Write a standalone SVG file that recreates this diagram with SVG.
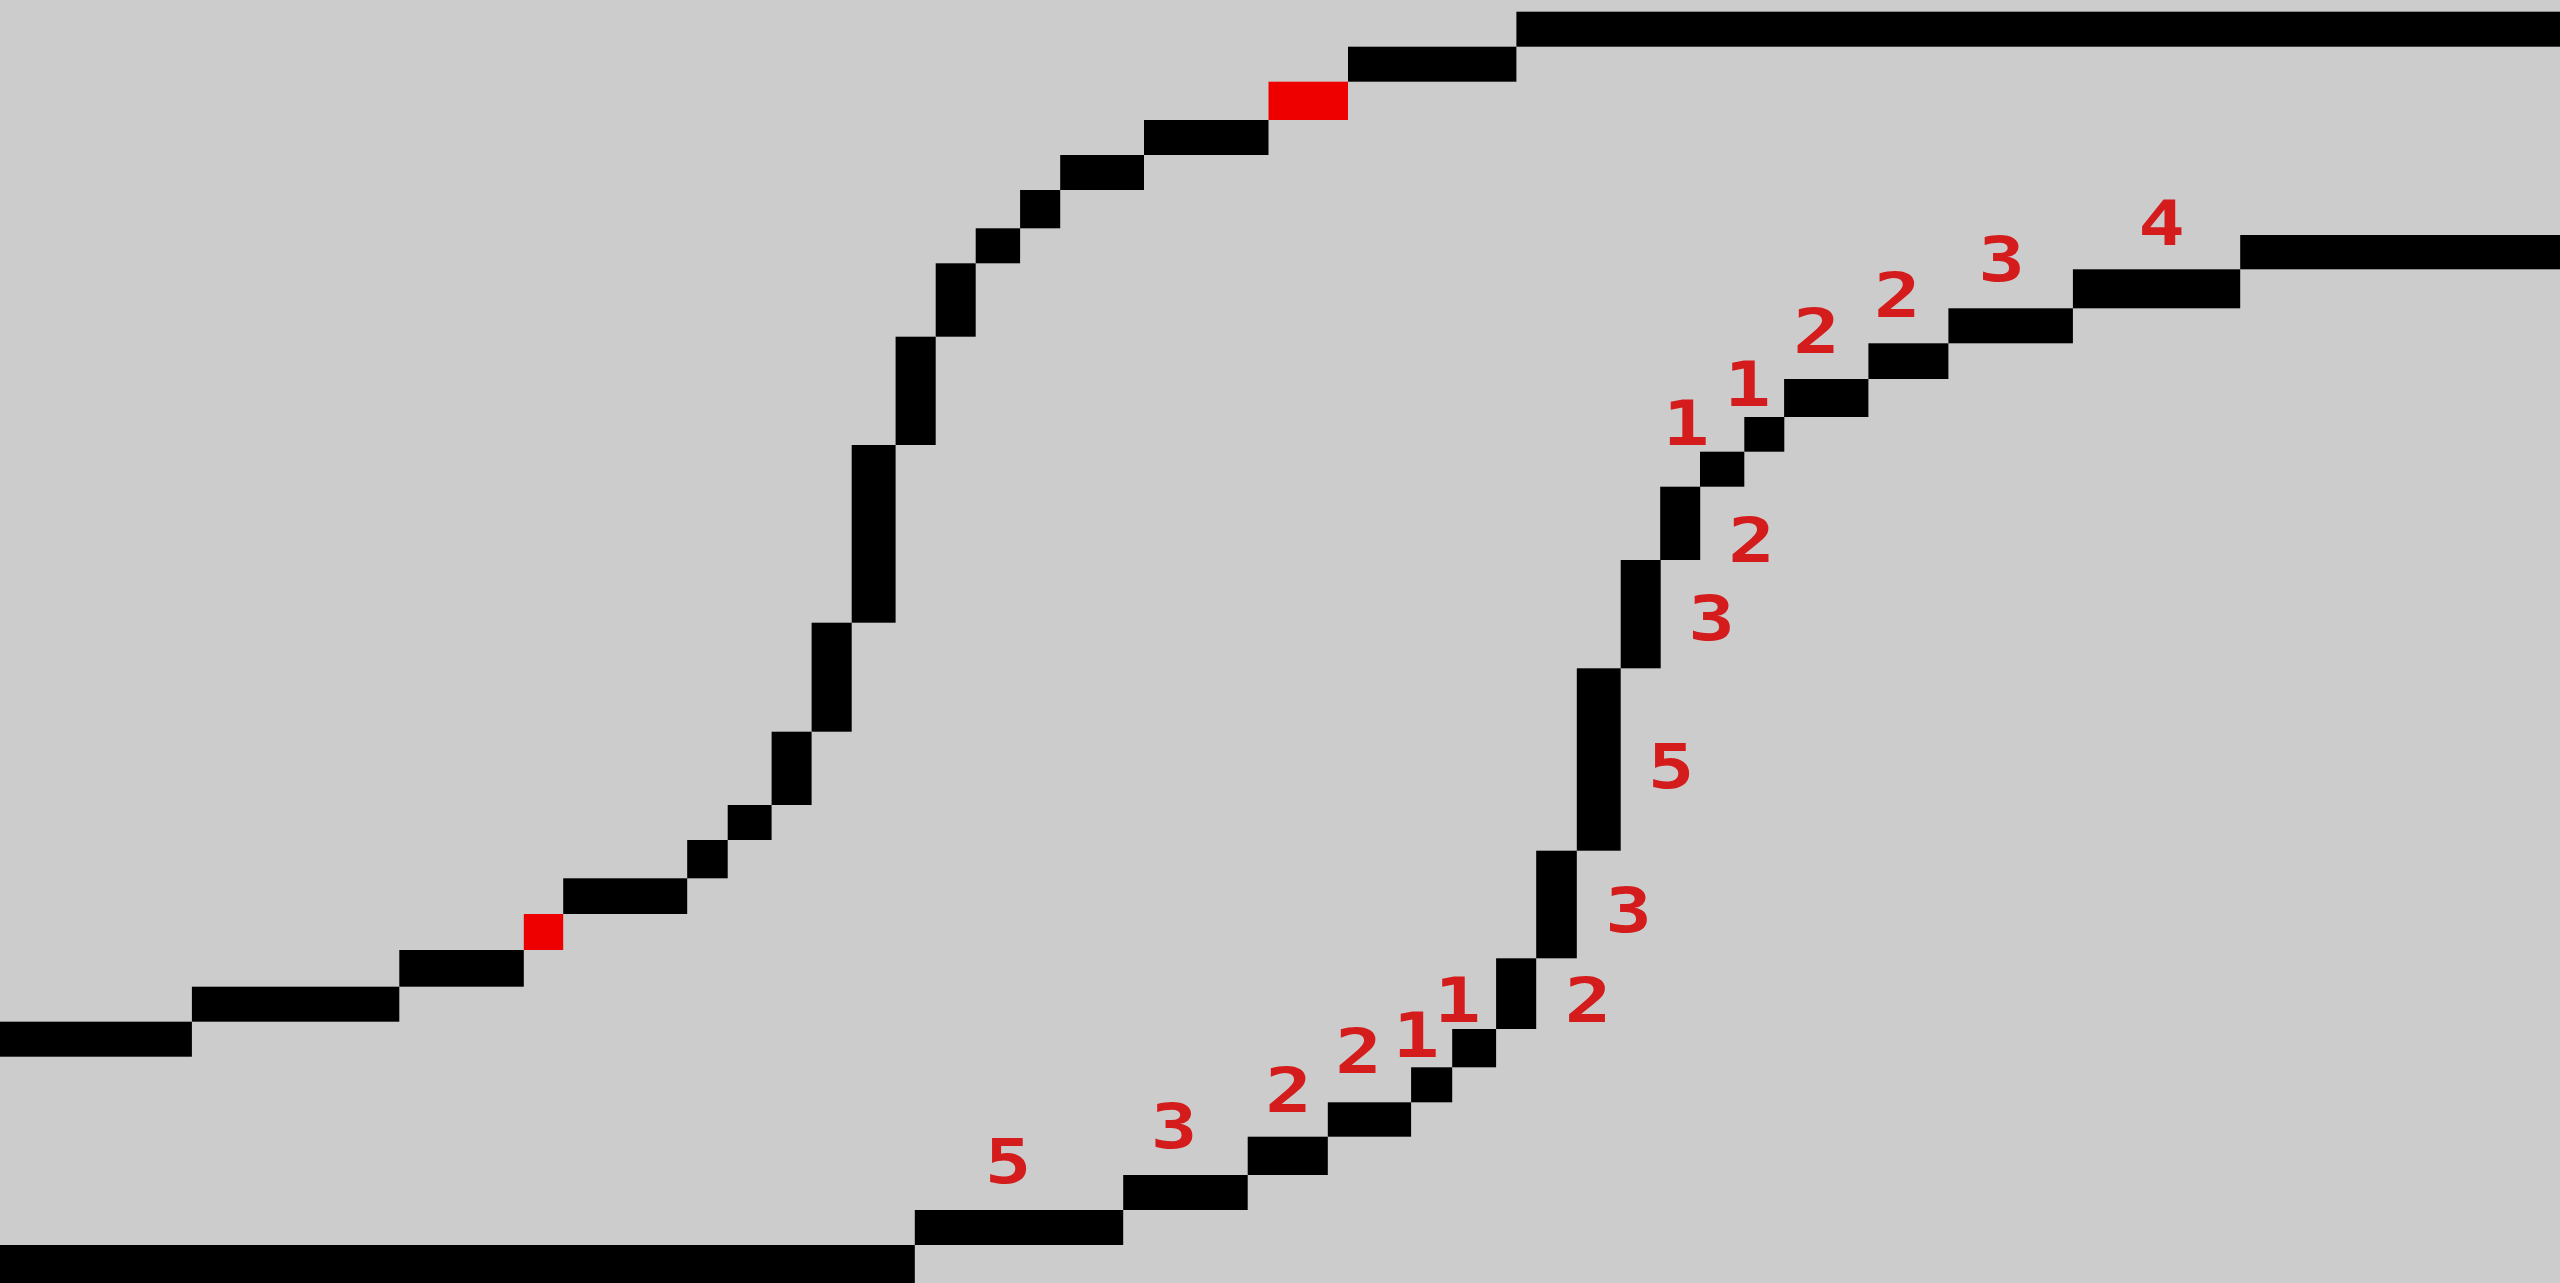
<svg xmlns="http://www.w3.org/2000/svg" width="2560" height="1283" viewBox="0 0 2560 1283">
<style>
.b{fill:#000}
.r{fill:#ee0000}
.lbl{font-family:"DejaVu Sans Mono","Liberation Mono",monospace;font-weight:bold;font-size:62px;fill:#d41c1c;text-anchor:middle}
</style>
<rect x="0" y="0" width="2560" height="1283" fill="#cccccc"/>
<g id="curve-left">
<rect class="b" x="0" y="1021.7" width="191.9" height="35"/>
<rect class="b" x="191.9" y="986.7" width="207.4" height="35"/>
<rect class="b" x="399.3" y="950" width="124.5" height="36.7"/>
<rect class="r" x="523.8" y="914" width="39.4" height="36"/>
<rect class="b" x="563.2" y="878.3" width="124" height="35.7"/>
<rect class="b" x="687.2" y="840" width="40.5" height="38.3"/>
<rect class="b" x="727.7" y="805" width="43.9" height="35"/>
<rect class="b" x="771.6" y="731.7" width="40" height="73.3"/>
<rect class="b" x="811.6" y="622.7" width="40.1" height="109"/>
<rect class="b" x="851.7" y="445" width="43.9" height="177.7"/>
<rect class="b" x="895.6" y="336.7" width="40.1" height="108.3"/>
<rect class="b" x="935.7" y="263.3" width="40" height="73.4"/>
<rect class="b" x="975.7" y="228.3" width="44.4" height="35"/>
<rect class="b" x="1020.1" y="190" width="40.1" height="38.3"/>
<rect class="b" x="1060.2" y="155" width="83.8" height="35"/>
<rect class="b" x="1144" y="120" width="124.5" height="35"/>
<rect class="r" x="1268.5" y="81.7" width="79.5" height="38.3"/>
<rect class="b" x="1348" y="46.7" width="168.4" height="35"/>
<rect class="b" x="1516.4" y="11.7" width="1043.6" height="35"/>
</g>
<g id="curve-right">
<rect class="b" x="0" y="1245" width="914.8" height="38"/>
<rect class="b" x="914.8" y="1210" width="208.4" height="35"/>
<rect class="b" x="1123.2" y="1175" width="124.5" height="35"/>
<rect class="b" x="1247.7" y="1136.7" width="80.1" height="38.3"/>
<rect class="b" x="1327.8" y="1102.3" width="83.3" height="34.4"/>
<rect class="b" x="1411.1" y="1067.3" width="41.1" height="35"/>
<rect class="b" x="1452.2" y="1029" width="43.9" height="38.3"/>
<rect class="b" x="1496.1" y="958.3" width="40.1" height="70.7"/>
<rect class="b" x="1536.2" y="850.7" width="40.6" height="107.6"/>
<rect class="b" x="1576.8" y="668.3" width="43.9" height="182.4"/>
<rect class="b" x="1620.7" y="560" width="40" height="108.3"/>
<rect class="b" x="1660.2" y="486.7" width="40" height="73.3"/>
<rect class="b" x="1700" y="451.7" width="44.3" height="35"/>
<rect class="b" x="1744.3" y="417" width="40" height="34.7"/>
<rect class="b" x="1784.1" y="379" width="84.3" height="38"/>
<rect class="b" x="1868.4" y="343.3" width="80" height="35.7"/>
<rect class="b" x="1948.4" y="308.3" width="124.5" height="35"/>
<rect class="b" x="2072.9" y="269.3" width="167.3" height="39"/>
<rect class="b" x="2240.2" y="235" width="319.8" height="34.3"/>
</g>
<g id="labels">
<text class="lbl" transform="translate(1008,1183) scale(1.25,1)">5</text>
<text class="lbl" transform="translate(1174,1148) scale(1.25,1)">3</text>
<text class="lbl" transform="translate(1288.5,1111.7) scale(1.25,1)">2</text>
<text class="lbl" transform="translate(1358.5,1073.3) scale(1.25,1)">2</text>
<text class="lbl" transform="translate(1416,1056.7) scale(1.25,1)">1</text>
<text class="lbl" transform="translate(1457.5,1021.7) scale(1.25,1)">1</text>
<text class="lbl" transform="translate(1588,1021.7) scale(1.25,1)">2</text>
<text class="lbl" transform="translate(1628.5,931.7) scale(1.25,1)">3</text>
<text class="lbl" transform="translate(1671,788.3) scale(1.25,1)">5</text>
<text class="lbl" transform="translate(1711.7,640) scale(1.25,1)">3</text>
<text class="lbl" transform="translate(1751.7,561.7) scale(1.25,1)">2</text>
<text class="lbl" transform="translate(1686,445) scale(1.25,1)">1</text>
<text class="lbl" transform="translate(1747.5,406) scale(1.25,1)">1</text>
<text class="lbl" transform="translate(1816.5,353.3) scale(1.25,1)">2</text>
<text class="lbl" transform="translate(1897.4,316.7) scale(1.25,1)">2</text>
<text class="lbl" transform="translate(2001.6,281) scale(1.25,1)">3</text>
<text class="lbl" transform="translate(2161.7,245) scale(1.25,1)">4</text>
</g>
</svg>
